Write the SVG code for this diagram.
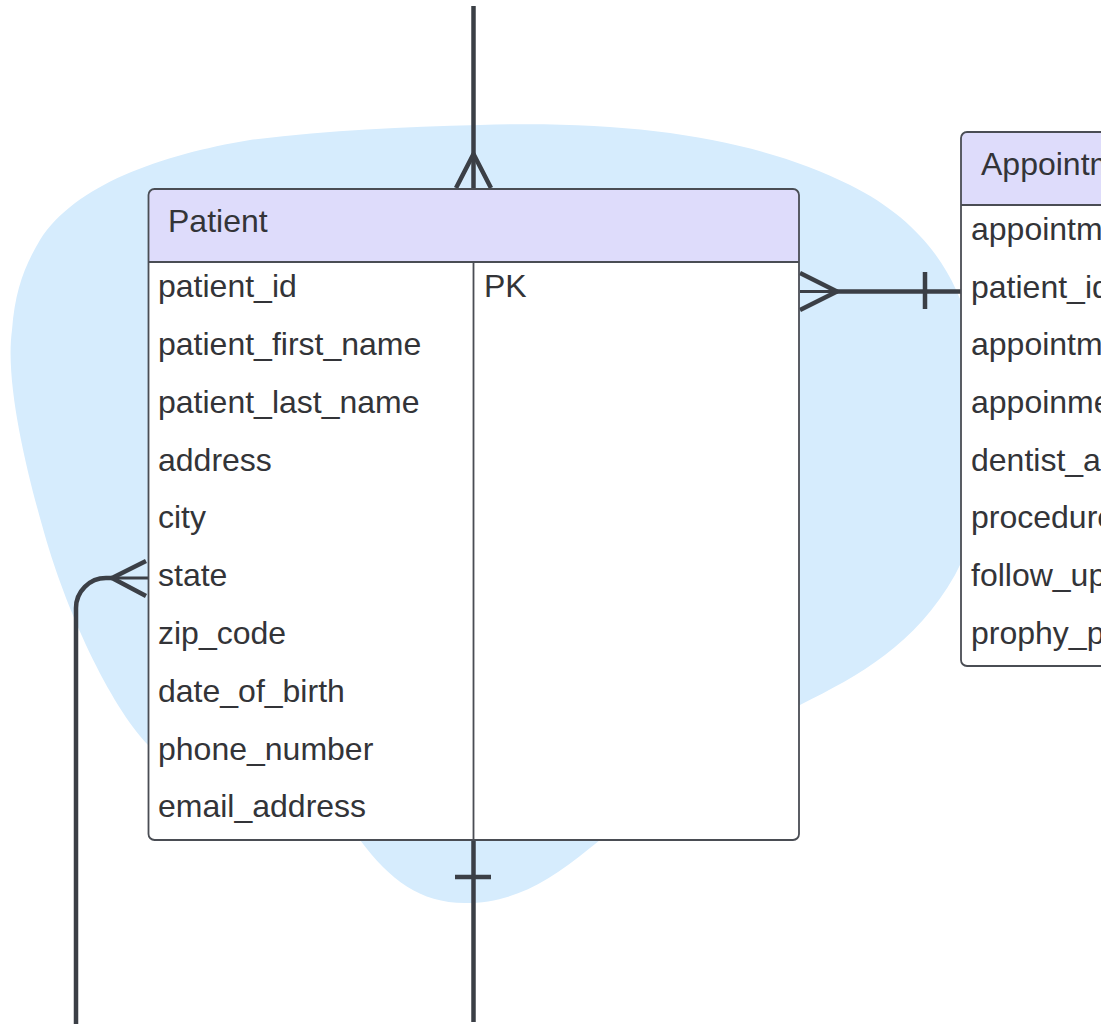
<svg xmlns="http://www.w3.org/2000/svg" width="1101" height="1024" viewBox="0 0 1101 1024">
  <style>
    .blob { fill: #d6ecfd; }
    .hdr { fill: #dedcfb; }
    .body { fill: #ffffff; }
    .frame { fill: none; stroke: #4a4d54; stroke-width: 1.8; }
    .div { stroke: #4a4d54; stroke-width: 1.8; }
    .t { font-family: "Liberation Sans", Arial, sans-serif; font-size: 32px; fill: #333438; }
    .c { fill: none; stroke: #3b3f46; stroke-width: 4.5; stroke-linecap: butt; stroke-linejoin: round; }
    .ct { fill: none; stroke: #3b3f46; stroke-width: 3; }
  </style>
  <rect x="0" y="0" width="1101" height="1024" fill="#ffffff"/>
  <path class="blob" d="M 480,125 C 640,120 760,140 850,185 C 920,220 955,270 970,330 C 995,420 990,510 955,575 C 915,645 860,675 800,705 C 720,755 650,800 590,848 C 545,885 510,903 465,903 C 420,903 390,880 360,840 C 290,810 195,795 148,745 C 110,705 65,610 42,525 C 25,465 5,380 12,330 C 15,290 25,265 40,240 C 75,185 160,155 250,140 C 330,130 400,127 480,125 Z"/>

  <g id="connectors">
    <!-- top: many to Patient -->
    <path class="c" d="M 473.5,6 V 189"/>
    <path class="c" d="M 456,188 L 473.5,154 L 491,188"/>
    <!-- Patient to Appointment -->
    <path class="c" d="M 837,291.5 H 961"/>
    <path class="ct" d="M 800,291.5 H 837"/>
    <path class="c" d="M 800,273 L 837,291.5 L 800,310"/>
    <path class="c" d="M 925,272 V 309"/>
    <!-- left: state -->
    <path class="c" d="M 112,578 H 106 A 30 30 0 0 0 76,608 V 1024"/>
    <path class="ct" d="M 112,578 H 148"/>
    <path class="c" d="M 146,561 L 112,578 L 146,596"/>
    <!-- bottom: one from Patient -->
    <path class="c" d="M 473.5,840 V 1022"/>
    <path class="c" d="M 455,877 H 491"/>
  </g>

  <g id="patient">
    <path class="hdr" d="M 154.5,189 H 793 A 6 6 0 0 1 799,195 V 262 H 148.5 V 195 A 6 6 0 0 1 154.5,189 Z"/>
    <path class="body" d="M 148.5,262 H 799 V 834 A 6 6 0 0 1 793,840 H 154.5 A 6 6 0 0 1 148.5,834 Z"/>
    <rect class="frame" x="148.5" y="189" width="650.5" height="651" rx="6"/>
    <line class="div" x1="148.5" y1="262" x2="799" y2="262"/>
    <line class="div" x1="473.5" y1="262" x2="473.5" y2="840"/>
    <text class="t" x="168" y="232">Patient</text>
    <text class="t" x="158" y="297">patient_id</text>
    <text class="t" x="484" y="297">PK</text>
    <text class="t" x="158" y="355">patient_first_name</text>
    <text class="t" x="158" y="413">patient_last_name</text>
    <text class="t" x="158" y="471">address</text>
    <text class="t" x="158" y="528">city</text>
    <text class="t" x="158" y="586">state</text>
    <text class="t" x="158" y="644">zip_code</text>
    <text class="t" x="158" y="702">date_of_birth</text>
    <text class="t" x="158" y="760">phone_number</text>
    <text class="t" x="158" y="817">email_address</text>
  </g>

  <g id="appointment">
    <path class="hdr" d="M 967,132 H 1120 V 205 H 961 V 138 A 6 6 0 0 1 967,132 Z"/>
    <path class="body" d="M 961,205 H 1120 V 666 H 967 A 6 6 0 0 1 961,660 Z"/>
    <path class="frame" d="M 1120,132 H 967 A 6 6 0 0 0 961,138 V 660 A 6 6 0 0 0 967,666 H 1120"/>
    <line class="div" x1="961" y1="205" x2="1120" y2="205"/>
    <text class="t" x="981" y="175">Appointment</text>
    <text class="t" x="971" y="240">appointment_id</text>
    <text class="t" x="971" y="297.5">patient_id</text>
    <text class="t" x="971" y="355">appointment_date</text>
    <text class="t" x="971" y="413">appoinment_time</text>
    <text class="t" x="971" y="470.5">dentist_a</text>
    <text class="t" x="971" y="528">procedure</text>
    <text class="t" x="971" y="586">follow_up</text>
    <text class="t" x="971" y="643.5">prophy_p</text>
  </g>
</svg>
